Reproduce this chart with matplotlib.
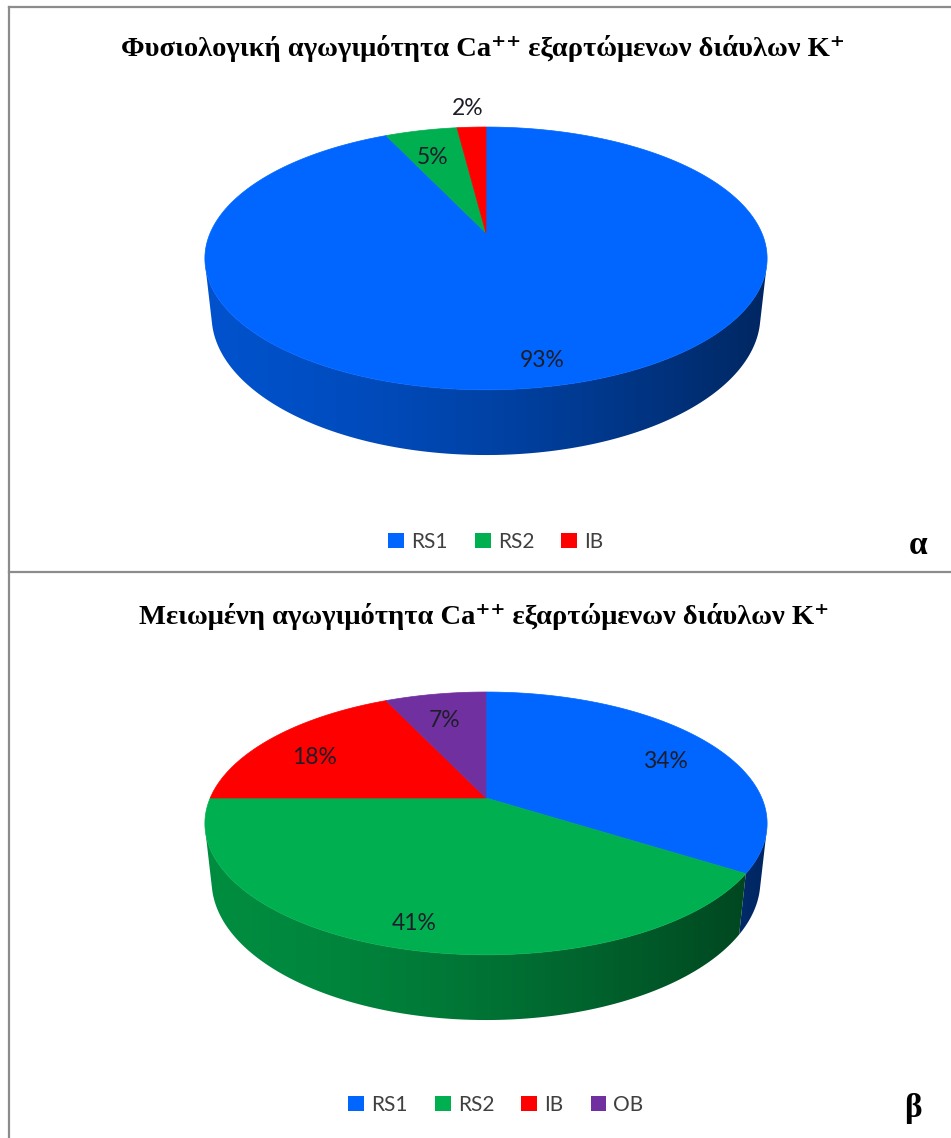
import numpy as np
import matplotlib.pyplot as plt
from matplotlib.patches import Polygon, Patch
from matplotlib.lines import Line2D
from matplotlib.colors import to_rgb

W, H = 951, 1138

# chart data
names_a = ['RS1', 'RS2', 'IB']
values_a = [93, 5, 2]
names_b = ['RS1', 'RS2', 'IB', 'OB']
values_b = [34, 41, 18, 7]
title_a = 'Φυσιολογική αγωγιμότητα Ca⁺⁺ εξαρτώμενων διάυλων K⁺'
title_b = 'Μειωμένη αγωγιμότητα Ca⁺⁺ εξαρτώμενων διάυλων K⁺'
tags = ['α', 'β']
colors = {'RS1': '#0066FF', 'RS2': '#00B050', 'IB': '#FF0000', 'OB': '#7030A0'}

# camera looking down on the tilted disc (perspective)
SIN_E = 0.4586
COS_E = np.sqrt(1 - SIN_E ** 2)
DIST = 4.594
FOCAL = 1267
THICK = 0.236

LABEL_FONT = ['Lato', 'DejaVu Sans']
SERIF = ['Liberation Serif', 'DejaVu Serif']


def project(x, y, z, cx, cy):
    depth = DIST + y * COS_E - z * SIN_E
    sx = FOCAL * x / depth
    sy = FOCAL * (y * SIN_E + z * COS_E) / depth
    return cx + sx, cy - sy


def wall_shade(xpos):
    # lighter on the left side, darker to the right
    t = (np.clip(xpos, -1, 1) + 1) / 2
    return 0.80 - 0.42 * t ** 1.5


def draw_pie(ax, values, names, cx, cy):
    fracs = np.array(values, dtype=float) / sum(values)
    edges = np.concatenate([[0], np.cumsum(fracs)]) * 360
    # the outer wall faces the camera only on this arc
    vis = np.degrees(np.arccos(-1 / (DIST * COS_E)))
    ring = np.radians(np.arange(0, 360, 0.5))
    rx, _ = project(np.sin(ring), np.cos(ring), 0, cx, cy)
    half_w = rx.max() - cx

    # side walls first, the top face goes over them
    for k, name in enumerate(names):
        a0, a1 = max(edges[k], vis), min(edges[k + 1], 360 - vis)
        if a1 <= a0:
            continue
        phi = np.radians(np.linspace(a0, a1, max(int((a1 - a0) / 0.5), 2)))
        tx, ty = project(np.sin(phi), np.cos(phi), 0, cx, cy)
        bx, by = project(np.sin(phi), np.cos(phi), -THICK, cx, cy)
        pts = list(zip(tx, ty)) + list(zip(bx[::-1], by[::-1]))
        outline = Polygon(pts, closed=True, facecolor='none', edgecolor='none')
        ax.add_patch(outline)

        x0, x1 = min(tx.min(), bx.min()) - 2, max(tx.max(), bx.max()) + 2
        y0, y1 = min(ty.min(), by.min()) - 2, max(ty.max(), by.max()) + 2
        cols = np.linspace(x0, x1, 400)
        shade = wall_shade((cols - cx) / half_w)
        img = np.array(to_rgb(colors[name]))[None, None, :] * shade[None, :, None]
        im = ax.imshow(img, extent=[x0, x1, y1, y0], aspect='auto',
                       interpolation='bilinear', zorder=1)
        im.set_clip_path(outline)

    # top face wedges
    ox, oy = project(0.0, 0.0, 0.0, cx, cy)
    for k, name in enumerate(names):
        a0, a1 = edges[k], edges[k + 1]
        phi = np.radians(np.linspace(a0, a1, max(int((a1 - a0) / 0.5), 2)))
        px, py = project(np.sin(phi), np.cos(phi), 0, cx, cy)
        pts = [(ox, oy)] + list(zip(px, py))
        ax.add_patch(Polygon(pts, closed=True, facecolor=colors[name],
                             edgecolor=colors[name], lw=0.5, zorder=2))

    # percentage labels
    for k, v in enumerate(values):
        mid = np.radians((edges[k] + edges[k + 1]) / 2)
        r = 1.32 if fracs[k] < 0.03 else 0.8
        lx, ly = project(r * np.sin(mid), r * np.cos(mid), -0.04, cx, cy)
        ax.text(lx, ly, f'{v}%', ha='center', va='center', fontsize=16.5,
                color='#1E1E2A', family=LABEL_FONT, zorder=3)


fig = plt.figure(figsize=(W / 100, H / 100), dpi=100)
fig.patch.set_facecolor('white')
ax = fig.add_axes([0, 0, 1, 1])
ax.axis('off')

# panel frames
frame = dict(color='#8C8C8C', lw=1.6)
ax.add_line(Line2D([8.5, 8.5], [6.5, H], **frame))
ax.add_line(Line2D([8.5, W], [6.5, 6.5], **frame))
ax.add_line(Line2D([8.5, W], [571.5, 571.5], **frame))

draw_pie(ax, values_a, names_a, 486, 233)
draw_pie(ax, values_b, names_b, 486, 798)

ax.text(483, 48, title_a, ha='center', va='center', fontsize=20.5,
        fontweight='bold', family=SERIF, color='black')
ax.text(484, 616, title_b, ha='center', va='center', fontsize=20.5,
        fontweight='bold', family=SERIF, color='black')

ax.text(918, 545, tags[0], ha='center', va='center', fontsize=24,
        fontweight='bold', family=SERIF)
ax.text(913, 1108, tags[1], ha='center', va='center', fontsize=24,
        fontweight='bold', family=SERIF)

ax.set_xlim(0, W)
ax.set_ylim(H, 0)

for names, ypix in [(names_a, 542), (names_b, 1105)]:
    handles = [Patch(facecolor=colors[n], edgecolor='none') for n in names]
    fig.legend(handles, names, loc='center', bbox_to_anchor=(496 / W, 1 - ypix / H),
               ncol=len(names), frameon=False, handlelength=0.75, handleheight=0.75,
               handletextpad=0.35, columnspacing=1.3,
               prop={'family': LABEL_FONT, 'size': 15}, labelcolor='#404040')

fig.savefig('out.png', dpi=100, facecolor='white')
